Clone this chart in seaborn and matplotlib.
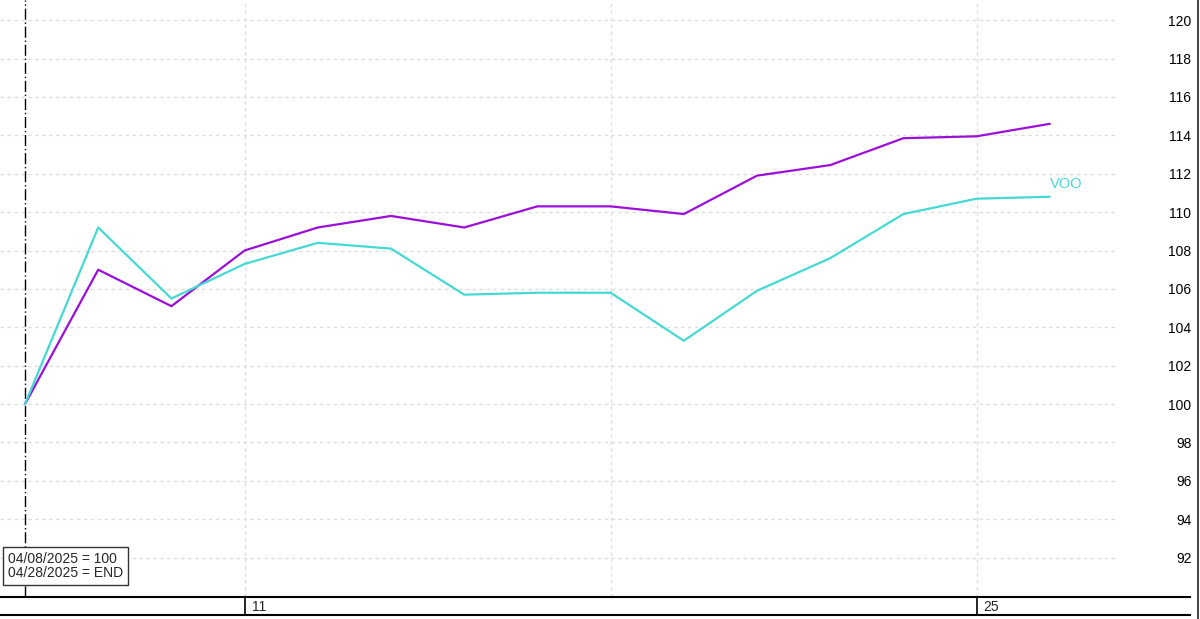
import matplotlib

matplotlib.use("Agg")
import matplotlib.pyplot as plt
import numpy as np
import pandas as pd
import seaborn as sns
from matplotlib.lines import Line2D

sns.set_theme(style="white")
plt.rcParams["font.family"] = ["Liberation Sans", "DejaVu Sans"]

# trading sessions, 04/18 holiday carries the previous close
dates = ["04/08", "04/09", "04/10", "04/11", "04/14", "04/15", "04/16", "04/17",
         "04/18", "04/21", "04/22", "04/23", "04/24", "04/25", "04/28"]
purple_vals = [100.0, 107.0, 105.1, 108.0, 109.2, 109.8, 109.2, 110.3,
               110.3, 109.9, 111.9, 112.45, 113.85, 113.95, 114.6]
voo_vals = [100.0, 109.2, 105.5, 107.3, 108.4, 108.1, 105.7, 105.8,
            105.8, 103.3, 105.9, 107.6, 109.9, 110.7, 110.8]
y_ticks = [92, 94, 96, 98, 100, 102, 104, 106, 108, 110, 112, 114, 116, 118, 120]
week_ends = ["04/11", "04/18", "04/25"]
labeled_days = {"04/11": "11", "04/25": "25"}

PURPLE = "#9b0fd8"
TURQ = "#45d9d4"
GRID = "#dedede"

df = pd.DataFrame({"i": np.arange(len(dates)), "date": dates,
                   "purple": purple_vals, "VOO": voo_vals})

W, H = 1200, 619
fig = plt.figure(figsize=(W / 100, H / 100), dpi=100)
ax = fig.add_axes([0, 22 / H, 1190 / W, 597 / H])
strip = fig.add_axes([0, 4 / H, 1190 / W, 18 / H])

step = 73.2  # px per session
x0 = -25 / step
x1 = x0 + 1190 / step
ax.set_xlim(x0, x1)
ax.set_ylim(89.95, 121.05)

# dotted grid (horizontal stops short of the price scale)
for y in y_ticks:
    ax.axhline(y, xmin=0, xmax=1118 / 1190, color=GRID, lw=1, ls=(0, (2.5, 2.5)), zorder=0)
for d in week_ends:
    ax.axvline(dates.index(d), color=GRID, lw=1, ls=(0, (2.5, 2.5)), zorder=0)

# base-date marker
ax.axvline(0, color="black", lw=1, ls=(0, (8, 2, 1, 2)), zorder=1)

sns.lineplot(data=df, x="i", y="purple", ax=ax, color=PURPLE, lw=1.6)
sns.lineplot(data=df, x="i", y="VOO", ax=ax, color=TURQ, lw=1.6)
ax.text(df["i"].iloc[-1], voo_vals[-1] + 0.3, "VOO", color=TURQ, fontsize=10.5,
        ha="left", va="bottom")

ax.set_xlabel("")
ax.set_ylabel("")
ax.set_xticks([])
ax.yaxis.tick_right()
ax.set_yticks(y_ticks)
ax.set_yticklabels([str(v) for v in y_ticks])
ax.tick_params(axis="y", length=0, pad=1, labelsize=10, colors="black")
for lab in ax.get_yticklabels():
    lab.set_horizontalalignment("right")
for side in ["top", "left", "right"]:
    ax.spines[side].set_visible(False)
ax.spines["bottom"].set_color("black")
ax.spines["bottom"].set_linewidth(1.5)

ax.text(8 / 1190, 17 / 597, "04/08/2025 = 100\n04/28/2025 = END", transform=ax.transAxes,
        fontsize=10, ha="left", va="bottom", linespacing=1.0, zorder=5,
        bbox=dict(boxstyle="square,pad=0.38", fc="white", ec="#333333", lw=1))

# date strip below the chart
strip.set_xlim(x0, x1)
strip.set_ylim(0, 1)
strip.set_xticks([])
strip.set_yticks([])
for side in ["top", "left", "right"]:
    strip.spines[side].set_visible(False)
strip.spines["bottom"].set_color("black")
strip.spines["bottom"].set_linewidth(1.5)
strip.patch.set_alpha(0)
for d, lab in labeled_days.items():
    xi = dates.index(d)
    strip.axvline(xi, color="black", lw=1.2)
    strip.text(xi + 7 / step, 0.45, lab, fontsize=10, ha="left", va="center")

# outer price-scale border
fig.add_artist(Line2D([1198 / W, 1198 / W], [0, 1], color="#222222", lw=1.2,
                      transform=fig.transFigure))
fig.text(1191 / W, 1 - 3 / H, "Scale", fontsize=10, ha="right", va="bottom")

fig.savefig("out.png", dpi=100)
